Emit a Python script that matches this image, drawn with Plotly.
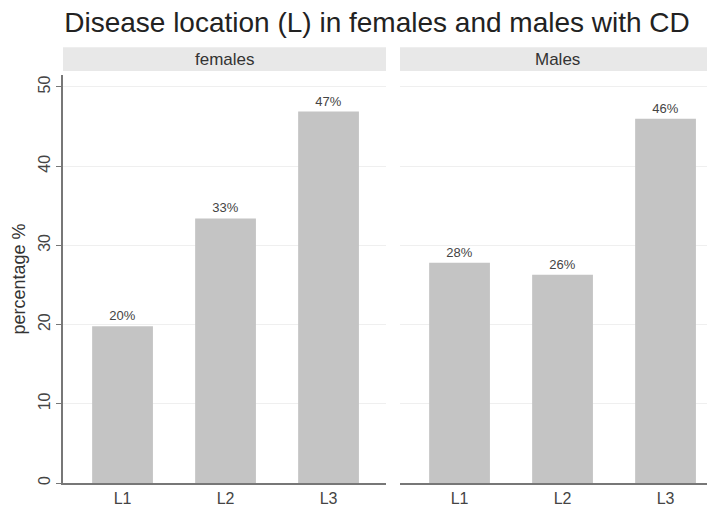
import plotly.graph_objects as go

categories = ["L1", "L2", "L3"]
females = [19.8, 33.4, 46.9]
males = [27.8, 26.3, 46.0]
panel_titles = ["females", "Males"]
y_ticks = [0, 10, 20, 30, 40, 50]

# page body has an 8px margin; the figure is sized and laid out to compensate
OFF = 8
W, H = 715 - OFF, 507 - OFF
fig = go.Figure()

bar_color = "#c4c4c4"
for vals, xa, ya in [(females, "x", "y"), (males, "x2", "y2")]:
    fig.add_trace(go.Bar(
        x=categories, y=vals, xaxis=xa, yaxis=ya,
        marker=dict(color=bar_color, line=dict(width=0)),
        width=0.59,
        texttemplate="%{y:.0f}%", textposition="outside",
        textfont=dict(size=13, color="#444"),
        cliponaxis=False, showlegend=False, hoverinfo="skip",
    ))

def px(x):
    return (x - OFF) / W

d1 = [px(63), px(386)]
d2 = [px(400), 1.0]
ppu = 103.0
r1 = [-0.578, -0.578 + 323 / ppu]
r2 = [-0.578, -0.578 + (715 - 400) / ppu]
yrange = [0, 410 / 7.96]
top, bottom = 75 - OFF, 485 - OFF

common_x = dict(showgrid=False, showline=True, linecolor="#777", linewidth=1.5,
                ticks="", tickfont=dict(size=16, color="#444"), zeroline=False,
                fixedrange=True)
fig.update_layout(
    width=W, height=H,
    margin=dict(l=0, r=0, t=top, b=H - bottom),
    paper_bgcolor="white", plot_bgcolor="white",
    font=dict(family="Liberation Sans, Arial, sans-serif", color="#333"),
    title=dict(text="Disease location (L) in females and males with CD",
               x=px(377), xanchor="center", y=1 - (22 - OFF) / H, yanchor="middle",
               font=dict(size=28, color="#222")),
    xaxis=dict(domain=d1, range=r1, **common_x),
    xaxis2=dict(domain=d2, range=r2, anchor="y2", **common_x),
    yaxis=dict(range=yrange, tickvals=y_ticks, showgrid=True, gridcolor="#efefef",
               gridwidth=1, showline=True, linecolor="#777", linewidth=1.5,
               ticks="outside", ticklen=5, tickcolor="#777", tickangle=-90,
               tickfont=dict(size=16, color="#444"), zeroline=False,
               title=dict(text="percentage %", font=dict(size=18, color="#333"), standoff=6),
               fixedrange=True),
    yaxis2=dict(range=yrange, tickvals=y_ticks, anchor="x2", showgrid=True,
                gridcolor="#efefef", gridwidth=1, showline=False, showticklabels=False,
                ticks="", zeroline=False, fixedrange=True),
)

ph = bottom - top
y0 = (bottom - (71 - OFF)) / ph
y1 = (bottom - (47 - OFF)) / ph
for dom, label in zip([d1, d2], panel_titles):
    fig.add_shape(type="rect", xref="paper", yref="paper", x0=dom[0], x1=dom[1],
                  y0=y0, y1=y1, fillcolor="#e8e8e8", line=dict(width=0), layer="below")
    fig.add_annotation(xref="paper", yref="paper", x=(dom[0] + dom[1]) / 2,
                       y=(y0 + y1) / 2, text=label, showarrow=False,
                       font=dict(size=17, color="#333"), xanchor="center", yanchor="middle")

fig.write_html("out.html")
